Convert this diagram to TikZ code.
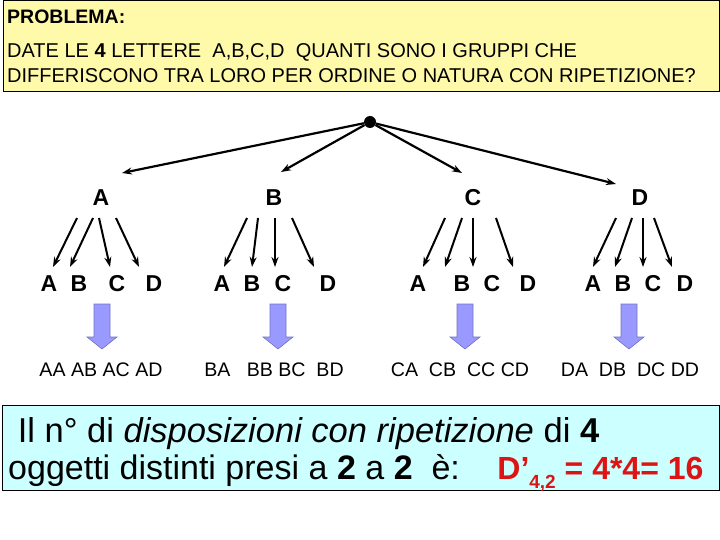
\documentclass[tikz,border=0pt]{standalone}
\usepackage{fontspec}
\setmainfont{Liberation Sans}
\usetikzlibrary{arrows.meta}
\definecolor{probyellow}{RGB}{255,250,170}
\definecolor{solcyan}{RGB}{204,255,255}
\definecolor{blockblue}{RGB}{153,153,255}
\definecolor{resred}{RGB}{220,20,20}

\begin{document}
\begin{tikzpicture}[x=1pt, y=-1pt,
    letter/.style={font=\fontsize{23}{23}\selectfont\bfseries, inner sep=0pt},
    pair/.style={font=\fontsize{19.6}{20}\selectfont, inner sep=0pt},
    branch/.style={line width=2.2pt, -{Stealth[length=10pt,width=7pt]}},
    twig/.style={line width=2pt, -{Stealth[length=10pt,width=7pt]}},
    blockarrow/.style={fill=blockblue, draw=blockblue!75!black, line width=0.6pt}]
  \useasboundingbox (0,0) rectangle (720,540);

  % problem statement
  \draw[fill=probyellow, line width=1pt] (3,0.5) rectangle (719,92);
  \node[anchor=base west, inner sep=0pt, font=\fontsize{19.5}{20}\selectfont\bfseries] (title) at (7,24) {PROBLEMA:};
  \node[anchor=base west, inner sep=0pt, font=\fontsize{20}{20}\selectfont] (quest1) at (7,58) {DATE LE \textbf{4} LETTERE \ A,B,C,D \ QUANTI SONO I GRUPPI CHE};
  \node[anchor=base west, inner sep=0pt, font=\fontsize{20}{20}\selectfont] (quest2) at (7,83) {DIFFERISCONO TRA LORO PER ORDINE O NATURA CON RIPETIZIONE?};

  % tree
  \node[circle, fill=black, inner sep=0pt, minimum size=12pt] (root) at (370,122) {};
  \node[letter] (lA) at (101,198) {A};
  \node[letter] (lB) at (274,198) {B};
  \node[letter] (lC) at (473,198) {C};
  \node[letter] (lD) at (640,198) {D};

  \draw[branch] (root) -- ([xshift=21pt,yshift=25pt]lA.center);
  \draw[branch] (root) -- ([xshift=7pt,yshift=26pt]lB.center);
  \draw[branch] (root) -- ([xshift=-11pt,yshift=25pt]lC.center);
  \draw[branch] (root) -- ([xshift=-24pt,yshift=14pt]lD.center);

  \foreach \n/\x/\t in {AA/49/A, AB/79/B, AC/117/C, AD/154/D,
                        BA/222/A, BB/252/B, BC/283/C, BD/328/D,
                        CA/418/A, CB/462/B, CC/492/C, CD/528/D,
                        DA/593/A, DB/623/B, DC/653/C, DD/685/D}
    \node[letter] (\n) at (\x,284) {\t};

  % second choice
  \foreach \from/\dx/\to/\ex in {lA/-24/AA/4, lA/-8/AB/-9, lA/-2/AC/-7, lA/15/AD/-15,
                                 lB/-27/BA/2, lB/-16/BB/0, lB/1/BC/-8, lB/18/BD/-14,
                                 lC/-28/CA/5, lC/-11/CB/-17, lC/0/CC/-19, lC/23/CD/-15,
                                 lD/-24/DA/0, lD/-8/DB/-8, lD/3/DC/-10, lD/14/DD/-13}
    \draw[twig] ([xshift=\dx pt,yshift=-20pt]\from.center) -- ([xshift=\ex pt,yshift=17pt]\to.center);

  % block arrows
  \foreach \x in {102,278,465,629}
    \draw[blockarrow] (\x-8,304) -- (\x+8,304) -- (\x+8,337) -- (\x+15,337) -- (\x,349)
                      -- (\x-15,337) -- (\x-8,337) -- cycle;

  \node[pair] (rA) at (101,370) {AA AB AC AD};
  \node[pair] (rB) at (274,370) {BA\ \ \ BB BC\ \ BD};
  \node[pair] (rC) at (460,370) {CA\ \ CB\ \ CC CD};
  \node[pair] (rD) at (630,370) {DA\ \ DB\ \ DC DD};

  % answer
  \draw[fill=solcyan, line width=1pt] (2,405) rectangle (719,490);
  \node[anchor=base west, inner sep=0pt, font=\fontsize{34.5}{35}\selectfont] (ans1) at (8,442)
    {\ Il n° di \textit{disposizioni con ripetizione} di \textbf{4}};
  \node[anchor=base west, inner sep=0pt, font=\fontsize{34}{35}\selectfont] (ans2) at (8,479)
    {oggetti distinti presi a \textbf{2} a \textbf{2} \ è: \ \ \hspace{6pt}{\color{resred}\fontsize{32}{32}\selectfont\bfseries D'\raisebox{-9pt}{\fontsize{19}{19}\selectfont 4,2} = 4*4= 16}};
\end{tikzpicture}
\end{document}
